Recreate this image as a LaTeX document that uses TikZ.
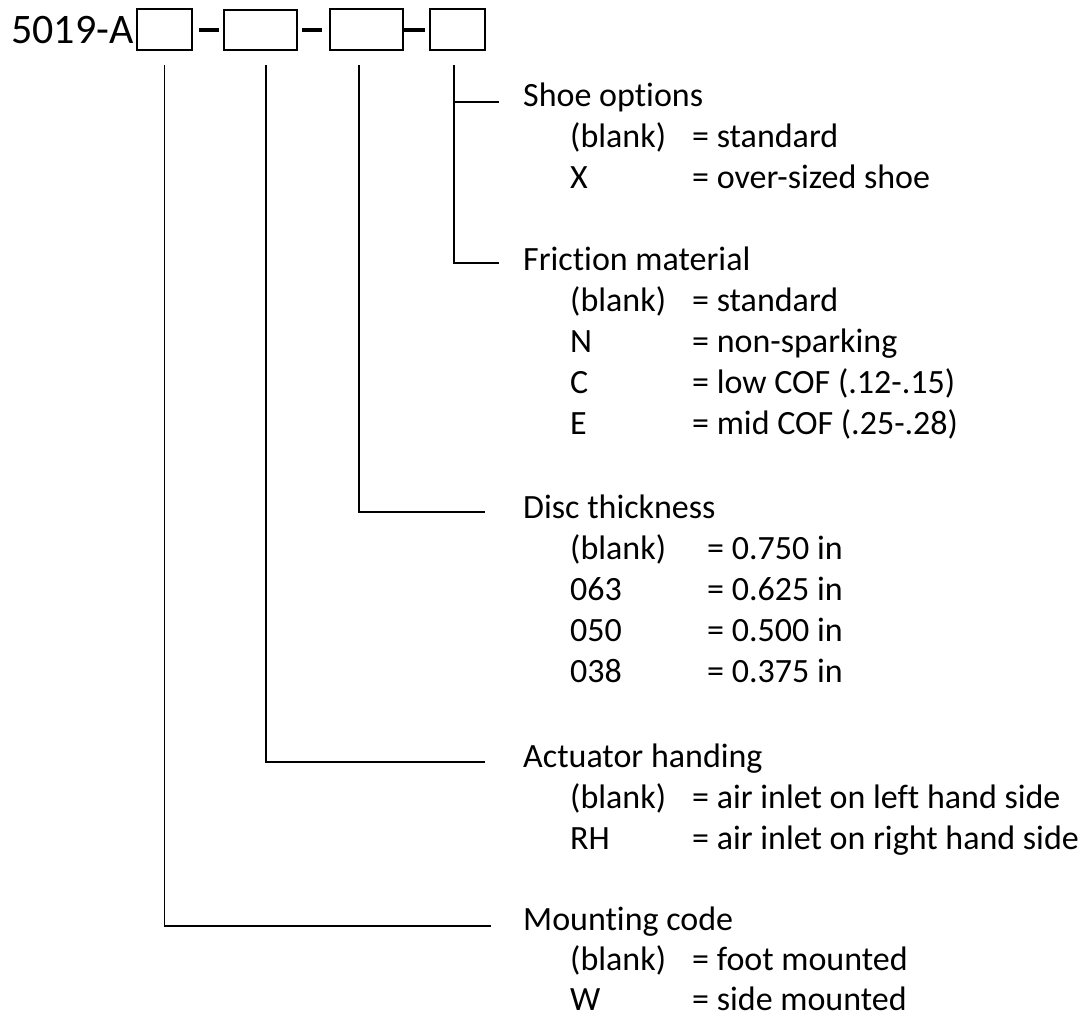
\documentclass[tikz,border=0pt]{standalone}
\usepackage{fontspec}
\setmainfont{Carlito}[Ligatures={NoCommon}]
\begin{document}
\begin{tikzpicture}[x=1pt,y=-1pt,
  codebox/.style={draw,line width=1.6pt},
  lead/.style={line width=1.6pt},
  sep/.style={line width=4pt},
  txt/.style={anchor=base west,inner sep=0pt,font=\fontsize{34}{40}\selectfont},
  head/.style={anchor=base west,inner sep=0pt,font=\fontsize{42}{48}\selectfont}]
\useasboundingbox (0,0) rectangle (1091,1017);
% part number header
\node[head] (pn) at (11,43) {5019-A};
\draw[codebox] (137,9) rectangle (192,50);
\draw[codebox] (224,10) rectangle (297,50);
\draw[codebox] (330,9) rectangle (403,50);
\draw[codebox] (430,9) rectangle (485,50);
\coordinate (b1) at (164.5,65);
\coordinate (b2) at (266,65);
\coordinate (b3) at (359,65);
\coordinate (b4) at (454,65);
\draw[sep] (199,30) -- (219,30);
\draw[sep] (302,30) -- (322,30);
\draw[sep] (404,30) -- (425,30);
% Shoe options
\node[txt] (shoe) at (523,106) {Shoe options};
\node[txt] at (570,147) {(blank)};
\node[txt] at (692,147) {= standard};
\node[txt] at (570,188) {X};
\node[txt] at (692,188) {= over-sized shoe};
% Friction material
\node[txt] (fric) at (523,270) {Friction material};
\node[txt] at (570,311) {(blank)};
\node[txt] at (692,311) {= standard};
\node[txt] at (570,352) {N};
\node[txt] at (692,352) {= non-sparking};
\node[txt] at (570,393) {C};
\node[txt] at (692,393) {= low COF (.12-.15)};
\node[txt] at (570,434) {E};
\node[txt] at (692,434) {= mid COF (.25-.28)};
% Disc thickness
\node[txt] (disc) at (523,518) {Disc thickness};
\node[txt] at (570,559) {(blank)};
\node[txt] at (707,559) {= 0.750 in};
\node[txt] at (570,600) {063};
\node[txt] at (707,600) {= 0.625 in};
\node[txt] at (570,641) {050};
\node[txt] at (707,641) {= 0.500 in};
\node[txt] at (570,682) {038};
\node[txt] at (707,682) {= 0.375 in};
% Actuator handing
\node[txt] (act) at (523,767) {Actuator handing};
\node[txt] at (570,808) {(blank)};
\node[txt] at (692,808) {= air inlet on left hand side};
\node[txt] at (570,849) {RH};
\node[txt] at (692,849) {= air inlet on right hand side};
% Mounting code
\node[txt] (mount) at (523,930) {Mounting code};
\node[txt] at (570,970) {(blank)};
\node[txt] at (692,970) {= foot mounted};
\node[txt] at (570,1010) {W};
\node[txt] at (692,1010) {= side mounted};
% leader end points
\coordinate (eshoe) at (499,102);
\coordinate (efric) at (499,263);
\coordinate (edisc) at (485,512);
\coordinate (eact) at (485,762);
\coordinate (emount) at (491,926);
% leaders
\draw[lead] (b4) |- (efric);
\draw[lead] (b4 |- eshoe) -- (eshoe);
\draw[lead] (b3) |- (edisc);
\draw[lead] (b2) |- (eact);
\draw[lead] (b1) |- (emount);
\end{tikzpicture}
\end{document}
